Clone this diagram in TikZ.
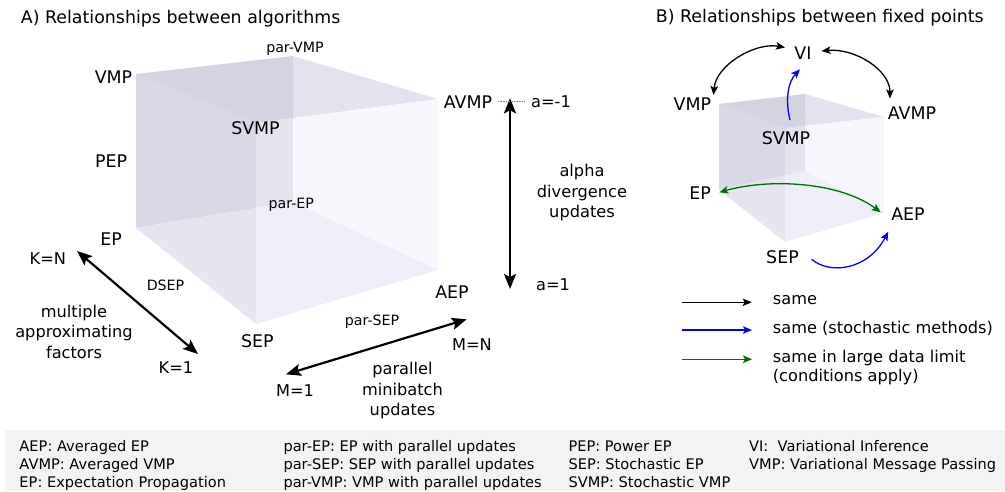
\documentclass[tikz,border=0pt]{standalone}
\usepackage{fontspec}
\setmainfont{DejaVu Sans}
\usetikzlibrary{arrows.meta,calc}
\definecolor{cA}{RGB}{211,211,225}
\definecolor{cB}{RGB}{227,227,239}
\definecolor{cC}{RGB}{216,216,230}
\definecolor{cD}{RGB}{228,228,239}
\definecolor{cE}{RGB}{246,246,253}
\definecolor{cF}{RGB}{230,230,241}
\definecolor{cG}{RGB}{238,238,248}
\definecolor{bandgray}{RGB}{243,243,243}
\definecolor{dgreen}{RGB}{0,110,0}
\definecolor{pureblue}{RGB}{0,0,255}
\newcommand{\mycubefill}[1]{%
  \coordinate (#1xa) at (intersection of #1pv--#1pe and #1s--#1av);
  \coordinate (#1xb) at (intersection of #1s--#1se and #1e--#1pe);
  \fill[cA] (#1v) -- (#1pv) -- (#1xa) -- (#1s) -- cycle;
  \fill[cB] (#1pv) -- (#1av) -- (#1xa) -- cycle;
  \fill[cC] (#1v) -- (#1s) -- (#1xb) -- (#1e) -- cycle;
  \fill[cD] (#1s) -- (#1xa) -- (#1pe) -- (#1xb) -- cycle;
  \fill[cE] (#1xa) -- (#1av) -- (#1ae) -- (#1pe) -- cycle;
  \fill[cF] (#1e) -- (#1xb) -- (#1se) -- cycle;
  \fill[cG] (#1xb) -- (#1pe) -- (#1ae) -- (#1se) -- cycle;
}
\begin{document}
\begin{tikzpicture}[x=1pt,y=-1pt,
  big/.style={inner sep=0pt, anchor=base, font=\fontsize{17.4}{20}\selectfont},
  mid/.style={inner sep=0pt, anchor=base, align=center, font=\fontsize{16.2}{20.5}\selectfont},
  small/.style={inner sep=0pt, anchor=base, font=\fontsize{14.2}{17}\selectfont},
  legtext/.style={inner sep=0pt, anchor=base west, align=left, font=\fontsize{16.2}{19.4}\selectfont},
  bandtext/.style={inner sep=0pt, anchor=base west, align=left, font=\fontsize{14.6}{17.85}\selectfont},
  bigarrow/.style={line width=2.2pt, {Stealth[length=15pt,width=12pt,inset=3pt]}-{Stealth[length=15pt,width=12pt,inset=3pt]}},
  thinarrow/.style={line width=1.3pt, -{Stealth[length=9pt,width=7.5pt,inset=2pt]}},
  thinboth/.style={line width=1.3pt, {Stealth[length=9pt,width=7.5pt,inset=2pt]}-{Stealth[length=9pt,width=7.5pt,inset=2pt]}}
]
\useasboundingbox (0,0) rectangle (1005,492);

% ---------------- cube A ----------------
\coordinate (Av) at (136,74);
\coordinate (Apv) at (293,56);
\coordinate (Aav) at (438,99);
\coordinate (As) at (256,123);
\coordinate (Ae) at (136,228);
\coordinate (Ape) at (293,202);
\coordinate (Aae) at (438,270);
\coordinate (Ase) at (256,324);
\mycubefill{A}

% ---------------- cube B ----------------
\coordinate (Bv) at (719,104);
\coordinate (Bpv) at (805,94);
\coordinate (Bav) at (884,117);
\coordinate (Bs) at (785,128);
\coordinate (Be) at (719,190);
\coordinate (Bpe) at (805,171);
\coordinate (Bae) at (884,213);
\coordinate (Bse) at (785,242);
\mycubefill{B}

% ---------------- panel A labels ----------------
\node[big, anchor=base west] (tA) at (20.7,23.3) {A) Relationships between algorithms};
\node[small] (parvmp) at (295,52.5) {par-VMP};
\node[big] (vmp) at (113.5,83.3) {VMP};
\node[big] (avmp) at (468,108.3) {AVMP};
\node[mid] (am1) at (551,107.5) {a=-1};
\node[big] (svmp) at (255.5,135) {SVMP};
\node[big] (pep) at (111,167.3) {PEP};
\node[small] (parep) at (291.3,208) {par-EP};
\node[big] (ep) at (111.2,245.5) {EP};
\node[mid] (kn) at (47.8,265) {K=N};
\node[small] (dsep) at (165.5,290) {DSEP};
\node[mid] (maf) at (74,358.3) {multiple\\approximating\\factors};
\node[mid] (k1) at (176,373.3) {K=1};
\node[big] (sep) at (257.3,347.3) {SEP};
\node[small] (parsep) at (372,325) {par-SEP};
\node[big] (aep) at (452,298.3) {AEP};
\node[mid] (mn) at (472,350.7) {M=N};
\node[mid] (m1) at (295,396.7) {M=1};
\node[mid] (pmu) at (402.5,415.5) {parallel\\minibatch\\updates};
\node[mid] (adu) at (582,217.5) {alpha\\divergence\\updates};
\node[mid] (a1) at (553,290) {a=1};

% arrows A
\coordinate (knT) at (77,251);
\coordinate (k1T) at (198,354);
\coordinate (m1T) at (286,374.3);
\coordinate (mnT) at (466.7,319.3);
\coordinate (am1T) at (510,98.3);
\coordinate (a1T) at (510,289);
\coordinate (dotL) at (498,101.5);
\coordinate (dotR) at (524,101.5);
\draw[bigarrow] (knT) -- (k1T);
\draw[bigarrow] (m1T) -- (mnT);
\draw[bigarrow] (am1T) -- (a1T);
\draw[gray, line width=0.7pt, dash pattern=on 1pt off 0.6pt] (dotL) -- (dotR);

% ---------------- panel B ----------------
\node[big, anchor=base west] (tB) at (655.7,22.7) {B) Relationships between fixed points};
\node[big] (bvi) at (803,59.3) {VI};
\node[big] (bvmp) at (692.3,110.7) {VMP};
\node[big] (bavmp) at (912,120) {AVMP};
\node[big] (bsvmp) at (786,144.3) {SVMP};
\node[big] (bep) at (700,200) {EP};
\node[big] (baep) at (908,220.7) {AEP};
\node[big] (bsep) at (782.5,263.3) {SEP};

\coordinate (viL) at (785,47.5);
\coordinate (vmpT) at (713.5,95);
\coordinate (viR) at (821.5,51);
\coordinate (avmpT) at (890,98.5);
\coordinate (svmpS) at (790,120);
\coordinate (viB) at (800,69.3);
\coordinate (epT) at (719.3,192.3);
\coordinate (aepT) at (880.7,212.3);
\coordinate (sepS) at (811.7,259.3);
\coordinate (aepB) at (888.3,231.7);
\draw[thinboth] (viL) .. controls (755,42) and (716,65) .. (vmpT);
\draw[thinboth] (viR) .. controls (855,48) and (890,70) .. (avmpT);
\draw[thinarrow, pureblue] (svmpS) .. controls (785,100) and (788,82) .. (viB);
\draw[thinboth, dgreen] (epT) .. controls (770,178) and (840,182) .. (aepT);
\draw[thinarrow, pureblue] (sepS) .. controls (830,275) and (868,270) .. (aepB);

% legend B
\coordinate (l1a) at (681.7,302.3); \coordinate (l1b) at (751.7,302.3);
\coordinate (l2a) at (682,330); \coordinate (l2b) at (752,330);
\coordinate (l3a) at (682,359.3); \coordinate (l3b) at (752,359.3);
\draw[thinarrow] (l1a) -- (l1b);
\draw[thinarrow, pureblue] (l2a) -- (l2b);
\draw[thinarrow, dgreen] (l3a) -- (l3b);
\node[legtext] (lt1) at (772.7,304.3) {same};
\node[legtext] (lt2) at (772.7,333.3) {same (stochastic methods)};
\node[legtext] (lt3) at (772.7,381.7) {same in large data limit\\(conditions apply)};

% ---------------- bottom band ----------------
\fill[bandgray] (5,429.5) rectangle (1005,491);
\node[bandtext] (g1) at (19.3,487) {AEP: Averaged EP\\AVMP: Averaged VMP\\EP: Expectation Propagation};
\node[bandtext] (g2) at (283.3,487) {par-EP: EP with parallel updates\\par-SEP: SEP with parallel updates\\par-VMP: VMP with parallel updates};
\node[bandtext] (g3) at (568.3,487) {PEP: Power EP\\SEP: Stochastic EP\\SVMP: Stochastic VMP};
\node[bandtext] (g4) at (749,469.2) {VI:\ \ Variational Inference\\VMP: Variational Message Passing};
\end{tikzpicture}
\end{document}
